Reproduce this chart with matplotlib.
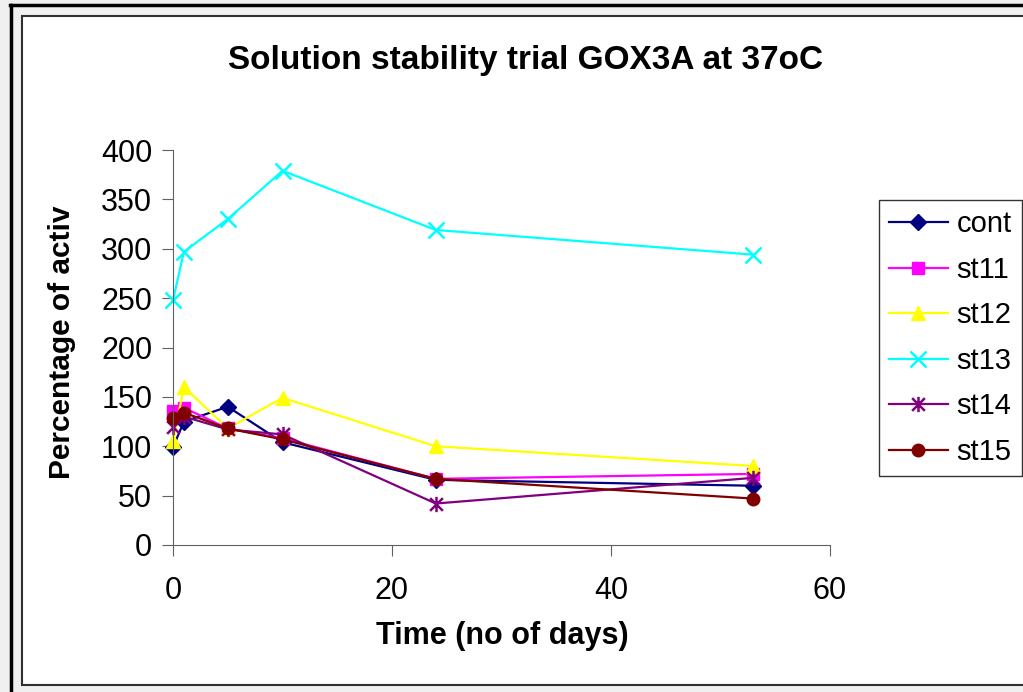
import matplotlib
matplotlib.use("Agg")
import matplotlib.pyplot as plt
from matplotlib.patches import Rectangle
from matplotlib.lines import Line2D
from matplotlib.path import Path

plt.rcParams['font.family'] = ['Liberation Sans', 'DejaVu Sans']

days = [0, 1, 5, 10, 24, 53]
cont = [99, 125, 140, 104, 66, 60]
st11 = [136, 139, 118, 108, 67, 72]
st12 = [105, 160, 118, 149, 100, 80]
st13 = [248, 297, 330, 379, 319, 294]
st14 = [120, 130, 117, 112, 42, 68]
st15 = [129, 134, 118, 107, 67, 47]

names = ["cont", "st11", "st12", "st13", "st14", "st15"]
series = [cont, st11, st12, st13, st14, st15]
colors = ["#000080", "#ff00ff", "#ffff00", "#00ffff", "#800080", "#800000"]

# excel style star: an x with a vertical bar through it
star = Path([(-1, -1), (1, 1), (-1, 1), (1, -1), (0, -1.2), (0, 1.2)],
            [Path.MOVETO, Path.LINETO, Path.MOVETO, Path.LINETO, Path.MOVETO, Path.LINETO])
markers = ["D", "s", "^", "x", star, "o"]
msizes = [8, 8, 10, 12, 11, 9]

W, H = 1023, 692
fig = plt.figure(figsize=(W / 100, H / 100), dpi=100)
fig.patch.set_facecolor("#f0f0f0")

# frames
fig.add_artist(Line2D([10 / W, 1], [1 - 5 / H, 1 - 5 / H], color="black", lw=2.5, transform=fig.transFigure))
fig.add_artist(Line2D([11 / W, 11 / W], [0, 1 - 5 / H], color="black", lw=2.5, transform=fig.transFigure))
fig.add_artist(Rectangle((21.5 / W, 1 - 685 / H), (W + 10) / W, (685 - 15.5) / H,
                         facecolor="white", edgecolor="#303030", lw=1.5, transform=fig.transFigure, zorder=0))

ax = fig.add_axes([173 / W, 1 - 545 / H, (830 - 173) / W, (545 - 150) / H])
ax.set_facecolor("none")
for name, vals, c, m, s in zip(names, series, colors, markers, msizes):
    if name in ("st13", "st14"):
        ax.plot(days, vals, color=c, lw=1.6, marker=m, ms=s, mew=1.8, label=name, clip_on=False)
    else:
        ax.plot(days, vals, color=c, lw=1.6, marker=m, ms=s, mec=c, label=name, clip_on=False)

ax.set_xlim(0, 60)
ax.set_ylim(0, 400)
ax.set_xticks([0, 20, 40, 60])
ax.set_yticks(range(0, 401, 50))
ax.spines["top"].set_visible(False)
ax.spines["right"].set_visible(False)
ax.spines["left"].set_color("#606060")
ax.spines["bottom"].set_color("#606060")
ax.tick_params(axis="both", direction="out", length=8, color="#606060", labelsize=22, pad=7)
ax.tick_params(axis="x", pad=14)

fig.text(526 / W, 1 - 60 / H, "Solution stability trial GOX3A at 37oC", ha="center", va="center",
         fontsize=24, fontweight="bold")
fig.text(502 / W, 1 - 636 / H, "Time (no of days)", ha="center", va="center", fontsize=22, fontweight="bold")
fig.text(62 / W, 1 - 342 / H, "Percentage of activ", ha="center", va="center", rotation=90,
         fontsize=21.5, fontweight="bold")

leg = fig.legend(loc="upper left", bbox_to_anchor=(879 / W, 1 - 200 / H), fontsize=21,
                 frameon=True, fancybox=False, handlelength=2.0, handletextpad=0.3,
                 labelspacing=0.6, borderpad=0.35, borderaxespad=0)
leg.get_frame().set_edgecolor("black")
leg.get_frame().set_linewidth(1.0)

fig.savefig("out.png", dpi=100, facecolor=fig.get_facecolor())
